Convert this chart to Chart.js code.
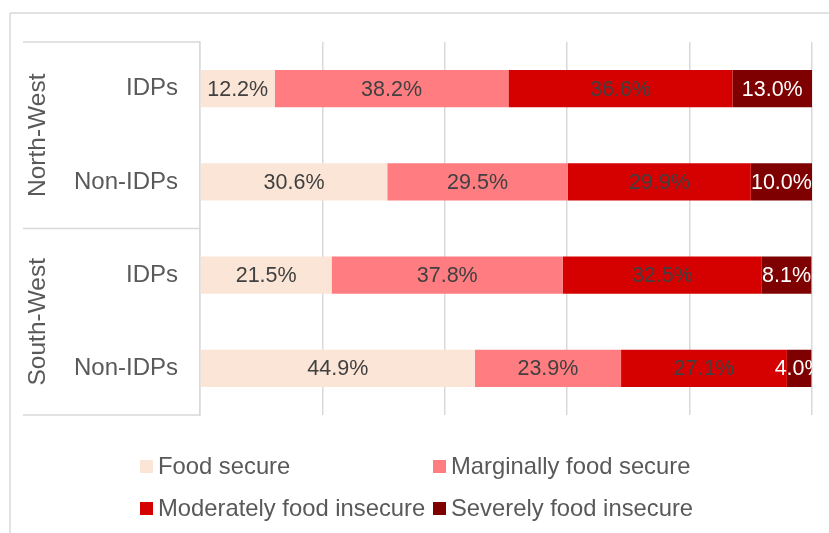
<!DOCTYPE html>
<html>
<head>
<meta charset="utf-8">
<script src="https://cdn.jsdelivr.net/npm/chart.js@4.4.1/dist/chart.umd.min.js"></script>
<style>
    html, body { margin: 0; padding: 0; background: #ffffff; }
    #wrap { position: relative; width: 829px; height: 533px; }
</style>
</head>
<body>
<div id="wrap"><canvas id="foodChart" width="829" height="533"></canvas></div>
<script>
const categories = ['IDPs', 'Non-IDPs', 'IDPs', 'Non-IDPs'];
const groups = ['North-West', 'South-West'];
const groupSizes = [2, 2];
const seriesNames = ['Food secure', 'Marginally food secure', 'Moderately food insecure', 'Severely food insecure'];
const foodSecure = [12.2, 30.6, 21.5, 44.9];
const marginallySecure = [38.2, 29.5, 37.8, 23.9];
const moderatelyInsecure = [36.6, 29.9, 32.5, 27.1];
const severelyInsecure = [13.0, 10.0, 8.1, 4.0];
const xTicks = [0, 20, 40, 60, 80, 100];

const colors = ['#FBE5D6', '#FF7C80', '#D50000', '#7F0000'];
const labelColors = ['#404040', '#404040', '#404040', '#ffffff'];
const gridColor = '#D9D9D9';
const textColor = '#595959';
const FONT = "'Liberation Sans', Arial, sans-serif";
const NARROW = "'Liberation Sans Narrow', 'Arial Narrow', 'Liberation Sans', sans-serif";

const values = [foodSecure, marginallySecure, moderatelyInsecure, severelyInsecure];

/* borders, group labels, data labels and legend */
const decorPlugin = {
    id: 'decor',
    beforeDraw(chart) {
        const ctx = chart.ctx;
        ctx.save();
        ctx.strokeStyle = gridColor;
        ctx.lineWidth = 1.5;
        ctx.beginPath();
        ctx.moveTo(10, 13);
        ctx.lineTo(chart.width, 13);
        ctx.moveTo(10, 13);
        ctx.lineTo(10, chart.height);
        ctx.stroke();
        ctx.restore();
    },
    afterDraw(chart) {
        const ctx = chart.ctx;
        const area = chart.chartArea;
        const yScale = chart.scales.y;
        const step = yScale.getPixelForValue(1) - yScale.getPixelForValue(0);

        // group box lines and rotated group labels
        ctx.save();
        ctx.strokeStyle = gridColor;
        ctx.lineWidth = 1.5;
        let idx = 0;
        const bounds = [area.top];
        groups.forEach(function (g, i) {
            const first = yScale.getPixelForValue(idx);
            const last = yScale.getPixelForValue(idx + groupSizes[i] - 1);
            const top = first - step / 2;
            const bottom = last + step / 2;
            bounds.push(bottom);
            ctx.save();
            ctx.translate(45, (top + bottom) / 2);
            ctx.rotate(-Math.PI / 2);
            ctx.fillStyle = textColor;
            ctx.font = '24.5px ' + FONT;
            ctx.textAlign = 'center';
            ctx.textBaseline = 'alphabetic';
            ctx.fillText(g, 0, 0);
            ctx.restore();
            idx += groupSizes[i];
        });
        ctx.beginPath();
        bounds.forEach(function (y) {
            ctx.moveTo(23, y);
            ctx.lineTo(area.left, y);
        });
        ctx.stroke();
        ctx.restore();

        // data labels, clipped to the plot area
        ctx.save();
        ctx.beginPath();
        ctx.rect(area.left, area.top, area.right - area.left, area.bottom - area.top);
        ctx.clip();
        ctx.font = "21.5px " + NARROW;
        ctx.textAlign = 'center';
        ctx.textBaseline = 'middle';
        chart.data.datasets.forEach(function (ds, di) {
            chart.getDatasetMeta(di).data.forEach(function (bar, i) {
                const cx = (bar.x + bar.base) / 2;
                ctx.fillStyle = labelColors[di];
                ctx.fillText(ds.data[i].toFixed(1) + '%', cx, bar.y + 1);
            });
        });
        ctx.restore();

        // legend in two columns
        ctx.save();
        ctx.font = '23.8px ' + FONT;
        ctx.textBaseline = 'middle';
        const colX = [140, 433];
        const rowY = [466.5, 508.5];
        seriesNames.forEach(function (name, i) {
            const x = colX[i % 2];
            const y = rowY[Math.floor(i / 2)];
            ctx.fillStyle = colors[i];
            ctx.fillRect(x, y - 6.5, 13, 13);
            ctx.fillStyle = textColor;
            ctx.fillText(name, x + 18, y + 1);
        });
        ctx.restore();
    }
};

new Chart(document.getElementById('foodChart').getContext('2d'), {
    type: 'bar',
    data: {
        labels: categories,
        datasets: seriesNames.map(function (name, i) {
            return {
                label: name,
                data: values[i],
                backgroundColor: colors[i],
                borderWidth: 0,
                barPercentage: 0.4,
                categoryPercentage: 1
            };
        })
    },
    options: {
        indexAxis: 'y',
        responsive: false,
        animation: false,
        layout: { padding: { top: 42, right: 17, bottom: 118, left: 0 } },
        plugins: {
            legend: { display: false },
            tooltip: { enabled: false }
        },
        scales: {
            x: {
                stacked: true,
                min: 0,
                max: 100,
                afterBuildTicks(scale) {
                    scale.ticks = xTicks.map(function (v) { return { value: v }; });
                },
                afterFit(scale) { scale.height = 0; },
                ticks: { display: false },
                border: { display: false },
                grid: { color: gridColor, lineWidth: 1.5, drawTicks: false }
            },
            y: {
                stacked: true,
                afterFit(scale) { scale.width = 200; },
                grid: { display: false, drawTicks: false },
                border: { display: true, color: gridColor, width: 1.5 },
                ticks: {
                    color: textColor,
                    padding: 22,
                    font: { family: FONT, size: 24 }
                }
            }
        }
    },
    plugins: [decorPlugin]
});
</script>
</body>
</html>
